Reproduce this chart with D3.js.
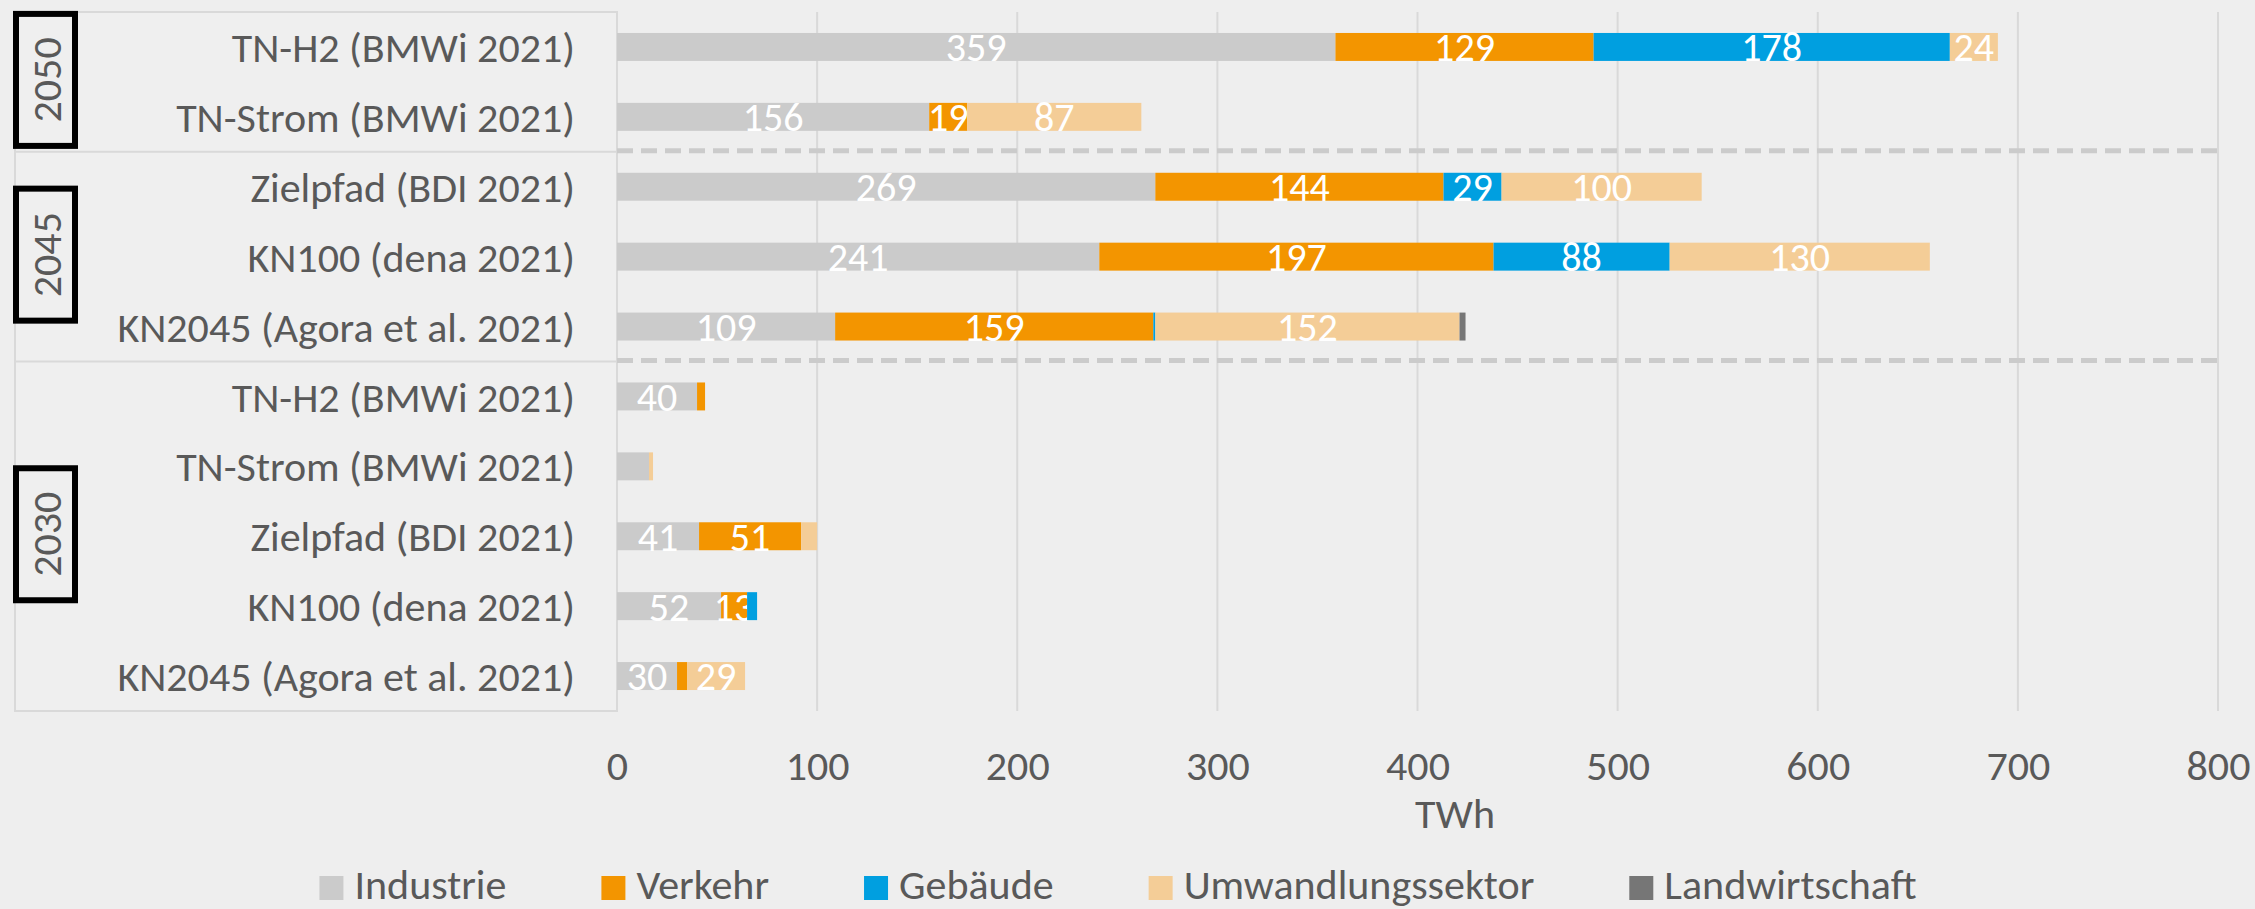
<!DOCTYPE html>
<html>
<head>
<meta charset="utf-8">
<script src="https://cdn.jsdelivr.net/npm/d3@7"></script>
<style>
  body { margin: 0; background: #eeeeee; }
  svg text { font-family: Carlito, Lato, "Open Sans", sans-serif; }
</style>
</head>
<body>
<div id="chart"></div>
<script>
// scenario rows, top to bottom
const categories = [
    'TN-H2 (BMWi 2021)', 'TN-Strom (BMWi 2021)',
    'Zielpfad (BDI 2021)', 'KN100 (dena 2021)', 'KN2045 (Agora et al. 2021)',
    'TN-H2 (BMWi 2021)', 'TN-Strom (BMWi 2021)',
    'Zielpfad (BDI 2021)', 'KN100 (dena 2021)', 'KN2045 (Agora et al. 2021)'
]
const rowYears = ['2050', '2050', '2045', '2045', '2045', '2030', '2030', '2030', '2030', '2030']
const years = ['2050', '2045', '2030']

const series = ['Industrie', 'Verkehr', 'Gebäude', 'Umwandlungssektor', 'Landwirtschaft']
const industrie      = [359, 156, 269, 241, 109, 40, 16, 41, 52, 30]
const verkehr        = [129,  19, 144, 197, 159,  4,  0, 51, 13,  5]
const gebaeude       = [178,   0,  29,  88,   1,  0,  0,  0,  5,  0]
const umwandlung     = [ 24,  87, 100, 130, 152,  0,  2,  8,  0, 29]
const landwirtschaft = [  0,   0,   0,   0,   3,  0,  0,  0,  0,  0]
// rows in which the data labels are hidden
const unlabeledRows = [6]

const xTicks = [0, 100, 200, 300, 400, 500, 600, 700, 800]
const xTitle = 'TWh'

const colors = ['#cbcbcb', '#f39500', '#009fe0', '#f4cd97', '#767676']
const textColor = '#595959'

const width = 2255, height = 909
const plot = { left: 617, right: 2218, top: 12, bottom: 711 }
const panelLeft = 15
const fontSize = 42

const rows = categories.map((c, i) => ({
    id: i, name: c, year: rowYears[i],
    values: [industrie[i], verkehr[i], gebaeude[i], umwandlung[i], landwirtschaft[i]]
}))

const stack = d3.stack()
    .keys(d3.range(series.length))
    .value((d, k) => d.values[k])
const stacked = stack(rows)

const x = d3.scaleLinear().domain([0, 800]).range([plot.left, plot.right])
const y = d3.scaleBand()
    .domain(rows.map(d => d.id))
    .range([plot.top, plot.bottom])
    .paddingInner(0.6)
    .paddingOuter(0.3)

const svg = d3.select('#chart').append('svg')
    .attr('width', width)
    .attr('height', height)

svg.append('rect')
    .attr('width', width).attr('height', height)
    .attr('fill', '#eeeeee')

// band edges between year groups
const step = y.step()
const rowTop = i => y(i) - step * y.paddingInner() / 2
const groupEdges = years.map(yr => {
    const idx = rows.filter(d => d.year === yr).map(d => d.id)
    const top = d3.min(idx) === 0 ? plot.top : rowTop(d3.min(idx))
    const bot = d3.max(idx) === rows.length - 1 ? plot.bottom : rowTop(d3.max(idx) + 1)
    return { year: yr, top, bot }
})

// left label panel
const panel = svg.append('g').attr('class', 'panel')
panel.append('rect')
    .attr('x', panelLeft).attr('y', plot.top)
    .attr('width', plot.left - panelLeft).attr('height', plot.bottom - plot.top)
    .attr('fill', '#efefef')
    .attr('stroke', '#d9d9d9')
    .attr('stroke-width', 2)
panel.selectAll('line.sep')
    .data(groupEdges.slice(1))
    .enter().append('line')
    .attr('class', 'sep')
    .attr('x1', panelLeft).attr('x2', plot.left)
    .attr('y1', d => d.top).attr('y2', d => d.top)
    .attr('stroke', '#d9d9d9')
    .attr('stroke-width', 2)

// gridlines
svg.append('g')
    .selectAll('line')
    .data(xTicks)
    .enter().append('line')
    .attr('x1', d => x(d)).attr('x2', d => x(d))
    .attr('y1', plot.top).attr('y2', plot.bottom)
    .attr('stroke', '#d9d9d9')
    .attr('stroke-width', 2)

// dashed separators between years
svg.append('g')
    .selectAll('line')
    .data(groupEdges.slice(1))
    .enter().append('line')
    .attr('x1', plot.left).attr('x2', plot.right)
    .attr('y1', d => d.top - 1).attr('y2', d => d.top - 1)
    .attr('stroke', '#cbcbcb')
    .attr('stroke-width', 5)
    .attr('stroke-dasharray', '16,8')

// bars
const layers = svg.append('g')
    .selectAll('g')
    .data(stacked)
    .enter().append('g')
    .attr('fill', (d, i) => colors[i])
layers.selectAll('rect')
    .data(d => d)
    .enter().append('rect')
    .attr('x', d => x(d[0]))
    .attr('width', d => Math.max(0, x(d[1]) - x(d[0])))
    .attr('y', d => y(d.data.id))
    .attr('height', y.bandwidth())

// data labels
layers.selectAll('text')
    .data(d => d.filter(v => (v[1] - v[0]) >= 10 && unlabeledRows.indexOf(v.data.id) < 0))
    .enter().append('text')
    .attr('x', d => (x(d[0]) + x(d[1])) / 2)
    .attr('y', d => y(d.data.id) + y.bandwidth() / 2)
    .attr('dy', '0.36em')
    .attr('text-anchor', 'middle')
    .attr('fill', '#ffffff')
    .attr('font-size', 40)
    .text(d => d[1] - d[0])

// category labels
svg.append('g')
    .selectAll('text')
    .data(rows)
    .enter().append('text')
    .attr('x', 575)
    .attr('y', d => y(d.id) + y.bandwidth() / 2)
    .attr('dy', '0.36em')
    .attr('text-anchor', 'end')
    .attr('fill', textColor)
    .attr('font-size', fontSize)
    .text(d => d.name)

// year boxes
const yearBox = svg.append('g')
    .selectAll('g')
    .data(groupEdges)
    .enter().append('g')
    .attr('transform', d => 'translate(45.5,' + ((d.top + d.bot) / 2 - 2) + ')')
yearBox.append('rect')
    .attr('x', -29.5).attr('y', -66)
    .attr('width', 59).attr('height', 132)
    .attr('fill', 'none')
    .attr('stroke', '#000000')
    .attr('stroke-width', 6)
yearBox.append('text')
    .attr('transform', 'rotate(-90)')
    .attr('dy', '0.36em')
    .attr('text-anchor', 'middle')
    .attr('fill', textColor)
    .attr('font-size', fontSize)
    .text(d => d.year)

// x axis
const xAxis = d3.axisBottom(x).tickValues(xTicks).tickSize(0).tickPadding(0)
const axisG = svg.append('g')
    .attr('transform', 'translate(0,' + plot.bottom + ')')
    .call(xAxis)
axisG.select('.domain').remove()
axisG.selectAll('text')
    .attr('y', 69)
    .attr('dy', 0)
    .attr('fill', textColor)
    .attr('font-size', fontSize)
    .attr('font-family', null)

svg.append('text')
    .attr('x', 1455)
    .attr('y', 828)
    .attr('text-anchor', 'middle')
    .attr('fill', textColor)
    .attr('font-size', fontSize)
    .text(xTitle)

// legend
const legend = svg.append('g')
const items = legend.selectAll('g')
    .data(series)
    .enter().append('g')
items.append('rect')
    .attr('width', 24).attr('height', 24)
    .attr('y', 876)
    .attr('fill', (d, i) => colors[i])
items.append('text')
    .attr('x', 35)
    .attr('y', 899)
    .attr('fill', textColor)
    .attr('font-size', fontSize)
    .text(d => d)
let offsets = [], cur = 0
items.each(function () {
    offsets.push(cur)
    cur += 35 + this.querySelector('text').getComputedTextLength() + 95
})
const legendWidth = cur - 95
const legendStart = 1118 - legendWidth / 2
items.attr('transform', (d, i) => 'translate(' + (legendStart + offsets[i]) + ',0)')
</script>
</body>
</html>
